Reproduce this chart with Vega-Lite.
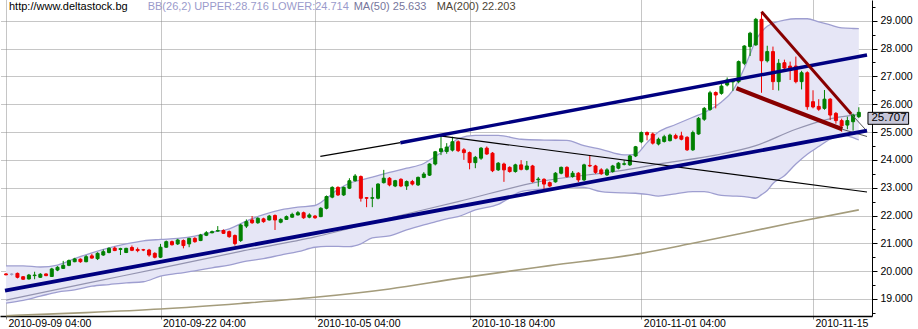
{
"$schema":"https://vega.github.io/schema/vega-lite/v6.json",
"width":872,"height":316,
"autosize":{"type":"none"},
"padding":{"left":0,"top":0,"right":46,"bottom":13},
"background":"white",
"config":{"view":{"stroke":null},"font":"Liberation Sans",
 "axisX":{"grid":true,"gridDash":[1,1],"gridColor":"#8c8c8c","domainColor":"#000000","domainWidth":1.5,
  "tickColor":"#8c8c8c","tickSize":3,"labelAlign":"left","labelBaseline":"alphabetic","labelPadding":7.5,
  "labelOffset":2,"labelFontSize":10.5,"labelFont":"Liberation Sans","labelColor":"#000000","title":null,
  "labelOverlap":false,"labelBound":false,"labelFlush":false},
 "axisY":{"grid":true,"gridDash":[1,1],"gridColor":"#8c8c8c","tickColor":"#000000","domainColor":"#000000",
  "labelPadding":3,"labelFontSize":10.5,"labelFont":"Liberation Sans","labelColor":"#000000","labelBaseline":"middle","title":null,
  "labelOverlap":false,"labelBound":false,"labelFlush":false}},
"datasets":{
"candles":[
{"i":0,"o":19.90,"h":19.93,"l":19.85,"c":19.87},
{"i":1,"o":19.89,"h":19.93,"l":19.84,"c":19.89},
{"i":2,"o":19.92,"h":19.95,"l":19.74,"c":19.78},
{"i":3,"o":19.80,"h":19.82,"l":19.69,"c":19.71},
{"i":4,"o":19.72,"h":19.90,"l":19.70,"c":19.86},
{"i":5,"o":19.84,"h":19.98,"l":19.71,"c":19.86},
{"i":6,"o":19.78,"h":19.93,"l":19.76,"c":19.89},
{"i":7,"o":19.90,"h":19.92,"l":19.82,"c":19.84},
{"i":8,"o":19.81,"h":20.12,"l":19.79,"c":20.08},
{"i":9,"o":20.04,"h":20.18,"l":20.00,"c":20.14},
{"i":10,"o":20.10,"h":20.37,"l":20.08,"c":20.21},
{"i":11,"o":20.21,"h":20.42,"l":20.18,"c":20.38},
{"i":12,"o":20.34,"h":20.48,"l":20.32,"c":20.44},
{"i":13,"o":20.43,"h":20.46,"l":20.30,"c":20.34},
{"i":14,"o":20.34,"h":20.58,"l":20.32,"c":20.52},
{"i":15,"o":20.55,"h":20.62,"l":20.45,"c":20.47},
{"i":16,"o":20.45,"h":20.68,"l":20.40,"c":20.64},
{"i":17,"o":20.58,"h":20.78,"l":20.55,"c":20.70},
{"i":18,"o":20.67,"h":20.86,"l":20.64,"c":20.82},
{"i":19,"o":20.83,"h":20.88,"l":20.72,"c":20.74},
{"i":20,"o":20.78,"h":20.84,"l":20.58,"c":20.81},
{"i":21,"o":20.67,"h":20.84,"l":20.65,"c":20.82},
{"i":22,"o":20.85,"h":20.92,"l":20.72,"c":20.75},
{"i":23,"o":20.78,"h":20.85,"l":20.68,"c":20.74},
{"i":24,"o":20.77,"h":20.80,"l":20.72,"c":20.76},
{"i":25,"o":20.76,"h":20.80,"l":20.52,"c":20.58},
{"i":26,"o":20.64,"h":20.68,"l":20.46,"c":20.50},
{"i":27,"o":20.50,"h":20.98,"l":20.47,"c":20.86},
{"i":28,"o":20.86,"h":21.10,"l":20.84,"c":21.06},
{"i":29,"o":21.06,"h":21.10,"l":20.92,"c":20.95},
{"i":30,"o":20.98,"h":21.16,"l":20.94,"c":21.12},
{"i":31,"o":21.10,"h":21.14,"l":20.82,"c":20.92},
{"i":32,"o":20.98,"h":21.20,"l":20.86,"c":21.18},
{"i":33,"o":21.18,"h":21.22,"l":21.02,"c":21.06},
{"i":34,"o":21.10,"h":21.34,"l":21.08,"c":21.30},
{"i":35,"o":21.29,"h":21.44,"l":21.26,"c":21.38},
{"i":36,"o":21.38,"h":21.46,"l":21.36,"c":21.42},
{"i":37,"o":21.44,"h":21.62,"l":21.42,"c":21.46},
{"i":38,"o":21.46,"h":21.50,"l":21.34,"c":21.36},
{"i":39,"o":21.42,"h":21.46,"l":21.20,"c":21.24},
{"i":40,"o":21.28,"h":21.32,"l":20.92,"c":20.99},
{"i":41,"o":21.10,"h":21.70,"l":21.05,"c":21.66},
{"i":42,"o":21.62,"h":21.86,"l":21.55,"c":21.78},
{"i":43,"o":21.84,"h":21.98,"l":21.70,"c":21.74},
{"i":44,"o":21.74,"h":21.94,"l":21.70,"c":21.90},
{"i":45,"o":21.88,"h":21.92,"l":21.74,"c":21.78},
{"i":46,"o":21.84,"h":22.02,"l":21.82,"c":21.98},
{"i":47,"o":22.00,"h":22.04,"l":21.48,"c":21.84},
{"i":48,"o":21.76,"h":21.90,"l":21.72,"c":21.86},
{"i":49,"o":21.86,"h":22.00,"l":21.84,"c":21.96},
{"i":50,"o":21.94,"h":22.10,"l":21.92,"c":22.04},
{"i":51,"o":22.02,"h":22.16,"l":22.00,"c":22.10},
{"i":52,"o":22.10,"h":22.14,"l":21.88,"c":21.92},
{"i":53,"o":21.94,"h":22.08,"l":21.90,"c":22.02},
{"i":54,"o":21.98,"h":22.02,"l":21.88,"c":21.92},
{"i":55,"o":21.96,"h":22.30,"l":21.94,"c":22.26},
{"i":56,"o":22.26,"h":22.72,"l":22.22,"c":22.68},
{"i":57,"o":22.66,"h":23.05,"l":22.62,"c":23.01},
{"i":58,"o":23.01,"h":23.05,"l":22.70,"c":22.74},
{"i":59,"o":22.74,"h":23.04,"l":22.70,"c":23.01},
{"i":60,"o":22.98,"h":23.34,"l":22.95,"c":23.25},
{"i":61,"o":23.25,"h":23.49,"l":23.22,"c":23.42},
{"i":62,"o":23.40,"h":23.44,"l":22.50,"c":22.62},
{"i":63,"o":22.64,"h":22.66,"l":22.30,"c":22.62},
{"i":64,"o":22.62,"h":23.00,"l":22.30,"c":22.64},
{"i":65,"o":22.62,"h":23.16,"l":22.58,"c":23.13},
{"i":66,"o":23.18,"h":23.64,"l":23.15,"c":23.34},
{"i":67,"o":23.34,"h":23.38,"l":23.05,"c":23.10},
{"i":68,"o":23.06,"h":23.28,"l":23.02,"c":23.25},
{"i":69,"o":23.30,"h":23.34,"l":23.02,"c":23.06},
{"i":70,"o":23.06,"h":23.26,"l":22.92,"c":23.22},
{"i":71,"o":23.22,"h":23.28,"l":23.08,"c":23.13},
{"i":72,"o":23.10,"h":23.40,"l":23.06,"c":23.37},
{"i":73,"o":23.37,"h":23.56,"l":23.34,"c":23.49},
{"i":74,"o":23.45,"h":23.88,"l":23.42,"c":23.85},
{"i":75,"o":23.85,"h":24.32,"l":23.80,"c":24.29},
{"i":76,"o":24.30,"h":24.89,"l":24.17,"c":24.40},
{"i":77,"o":24.30,"h":24.60,"l":24.22,"c":24.46},
{"i":78,"o":24.35,"h":24.83,"l":24.30,"c":24.65},
{"i":79,"o":24.65,"h":24.70,"l":24.28,"c":24.33},
{"i":80,"o":24.36,"h":24.42,"l":24.00,"c":24.26},
{"i":81,"o":24.26,"h":24.30,"l":23.66,"c":23.90},
{"i":82,"o":23.90,"h":24.14,"l":23.70,"c":24.09},
{"i":83,"o":24.06,"h":24.46,"l":24.00,"c":24.42},
{"i":84,"o":24.42,"h":24.48,"l":24.18,"c":24.21},
{"i":85,"o":24.24,"h":24.28,"l":23.56,"c":23.61},
{"i":86,"o":23.64,"h":23.92,"l":23.60,"c":23.88},
{"i":87,"o":23.85,"h":23.90,"l":23.21,"c":23.64},
{"i":88,"o":23.73,"h":23.77,"l":23.54,"c":23.58},
{"i":89,"o":23.58,"h":23.86,"l":23.54,"c":23.82},
{"i":90,"o":23.82,"h":23.99,"l":23.62,"c":23.66},
{"i":91,"o":23.66,"h":23.96,"l":23.62,"c":23.78},
{"i":92,"o":23.78,"h":23.82,"l":23.18,"c":23.22},
{"i":93,"o":23.28,"h":23.38,"l":23.04,"c":23.31},
{"i":94,"o":23.30,"h":23.34,"l":22.86,"c":23.13},
{"i":95,"o":23.18,"h":23.22,"l":23.02,"c":23.06},
{"i":96,"o":23.21,"h":23.56,"l":23.18,"c":23.52},
{"i":97,"o":23.52,"h":23.76,"l":23.48,"c":23.73},
{"i":98,"o":23.73,"h":23.77,"l":23.36,"c":23.40},
{"i":99,"o":23.40,"h":23.60,"l":23.36,"c":23.52},
{"i":100,"o":23.52,"h":23.56,"l":23.20,"c":23.28},
{"i":101,"o":23.28,"h":23.86,"l":23.24,"c":23.82},
{"i":102,"o":23.80,"h":24.17,"l":23.74,"c":23.78},
{"i":103,"o":23.78,"h":23.82,"l":23.50,"c":23.55},
{"i":104,"o":23.64,"h":23.70,"l":23.46,"c":23.50},
{"i":105,"o":23.46,"h":23.70,"l":23.42,"c":23.64},
{"i":106,"o":23.58,"h":23.82,"l":23.54,"c":23.78},
{"i":107,"o":23.70,"h":23.92,"l":23.66,"c":23.88},
{"i":108,"o":23.84,"h":23.99,"l":23.80,"c":23.86},
{"i":109,"o":23.82,"h":24.18,"l":23.78,"c":24.14},
{"i":110,"o":24.14,"h":24.50,"l":24.10,"c":24.47},
{"i":111,"o":24.65,"h":25.02,"l":24.60,"c":24.98},
{"i":112,"o":24.98,"h":25.02,"l":24.70,"c":24.90},
{"i":113,"o":24.93,"h":24.98,"l":24.55,"c":24.60},
{"i":114,"o":24.57,"h":24.80,"l":24.52,"c":24.74},
{"i":115,"o":24.66,"h":24.90,"l":24.62,"c":24.83},
{"i":116,"o":24.69,"h":24.94,"l":24.66,"c":24.89},
{"i":117,"o":24.87,"h":24.94,"l":24.74,"c":24.78},
{"i":118,"o":24.86,"h":25.01,"l":24.70,"c":24.74},
{"i":119,"o":24.81,"h":24.85,"l":24.32,"c":24.36},
{"i":120,"o":24.36,"h":25.05,"l":24.32,"c":24.98},
{"i":121,"o":24.93,"h":25.54,"l":24.90,"c":25.49},
{"i":122,"o":25.46,"h":25.90,"l":25.40,"c":25.85},
{"i":123,"o":25.81,"h":26.48,"l":25.76,"c":26.41},
{"i":124,"o":26.42,"h":26.46,"l":25.85,"c":26.33},
{"i":125,"o":26.39,"h":26.72,"l":26.34,"c":26.65},
{"i":126,"o":26.69,"h":26.96,"l":26.64,"c":26.87},
{"i":127,"o":26.80,"h":26.90,"l":26.48,"c":26.82},
{"i":128,"o":26.81,"h":27.57,"l":26.75,"c":27.53},
{"i":129,"o":27.47,"h":28.12,"l":27.40,"c":28.09},
{"i":130,"o":28.07,"h":28.60,"l":27.73,"c":28.55},
{"i":131,"o":28.13,"h":29.10,"l":28.10,"c":29.05},
{"i":132,"o":29.05,"h":29.32,"l":26.41,"c":27.56},
{"i":133,"o":27.56,"h":28.10,"l":27.50,"c":27.89},
{"i":134,"o":27.89,"h":28.07,"l":26.51,"c":26.81},
{"i":135,"o":26.81,"h":27.62,"l":26.49,"c":27.47},
{"i":136,"o":27.49,"h":27.60,"l":27.20,"c":27.30},
{"i":137,"o":27.37,"h":27.53,"l":26.87,"c":27.21},
{"i":138,"o":27.37,"h":27.71,"l":26.75,"c":26.81},
{"i":139,"o":26.81,"h":27.20,"l":26.53,"c":27.13},
{"i":140,"o":27.13,"h":27.18,"l":25.80,"c":25.91},
{"i":141,"o":26.09,"h":26.50,"l":25.85,"c":25.90},
{"i":142,"o":25.92,"h":26.18,"l":25.76,"c":25.82},
{"i":143,"o":25.85,"h":26.51,"l":25.80,"c":26.18},
{"i":144,"o":26.18,"h":26.22,"l":25.43,"c":25.61},
{"i":145,"o":25.67,"h":25.72,"l":25.30,"c":25.41},
{"i":146,"o":25.41,"h":25.48,"l":25.01,"c":25.22},
{"i":147,"o":25.25,"h":25.55,"l":25.10,"c":25.41},
{"i":148,"o":25.37,"h":25.66,"l":25.05,"c":25.61},
{"i":149,"o":25.55,"h":25.89,"l":25.50,"c":25.707}
],
"bands":[
{"i":0,"up":20.19,"lo":18.85},{"i":3,"up":20.19,"lo":18.95},{"i":6,"up":20.15,"lo":19.10},
{"i":9,"up":20.22,"lo":19.25},{"i":12,"up":20.45,"lo":19.33},{"i":15,"up":20.66,"lo":19.46},
{"i":18,"up":20.84,"lo":19.52},{"i":21,"up":20.98,"lo":19.58},{"i":24,"up":21.09,"lo":19.62},
{"i":27,"up":21.14,"lo":19.82},{"i":30,"up":21.18,"lo":19.92},{"i":33,"up":21.26,"lo":20.01},
{"i":36,"up":21.40,"lo":20.12},{"i":39,"up":21.52,"lo":20.22},{"i":42,"up":21.80,"lo":20.36},
{"i":45,"up":22.03,"lo":20.45},{"i":48,"up":22.20,"lo":20.58},{"i":51,"up":22.30,"lo":20.70},
{"i":54,"up":22.36,"lo":20.86},{"i":56,"up":22.62,"lo":20.89},{"i":58,"up":22.94,"lo":20.89},
{"i":60,"up":23.16,"lo":20.88},{"i":62,"up":23.28,"lo":20.98},{"i":64,"up":23.38,"lo":21.20},
{"i":67,"up":23.55,"lo":21.27},{"i":70,"up":23.70,"lo":21.48},{"i":73,"up":23.87,"lo":21.66},
{"i":75,"up":24.12,"lo":21.77},{"i":77,"up":24.40,"lo":21.88},{"i":79,"up":24.76,"lo":21.96},
{"i":82,"up":24.88,"lo":22.20},{"i":86,"up":24.88,"lo":22.40},{"i":90,"up":24.74,"lo":22.86},
{"i":94,"up":24.71,"lo":22.96},{"i":98,"up":24.70,"lo":23.03},{"i":101,"up":24.51,"lo":23.01},
{"i":104,"up":24.38,"lo":22.86},{"i":108,"up":24.18,"lo":22.81},{"i":110,"up":24.20,"lo":22.80},
{"i":112,"up":24.62,"lo":22.76},{"i":114,"up":25.00,"lo":22.70},{"i":117,"up":25.27,"lo":22.78},
{"i":120,"up":25.53,"lo":22.86},{"i":122,"up":25.70,"lo":22.86},{"i":125,"up":26.08,"lo":22.72},
{"i":127,"up":26.50,"lo":22.70},{"i":129,"up":27.30,"lo":22.68},{"i":130,"up":27.80,"lo":22.65},
{"i":131,"up":28.30,"lo":22.62},{"i":132,"up":28.60,"lo":22.75},{"i":133,"up":28.80,"lo":22.90},
{"i":134,"up":28.91,"lo":23.15},{"i":136,"up":29.02,"lo":23.43},{"i":138,"up":29.07,"lo":23.85},
{"i":140,"up":29.07,"lo":24.20},{"i":142,"up":28.96,"lo":24.48},{"i":144,"up":28.85,"lo":24.74},
{"i":146,"up":28.74,"lo":24.89},{"i":148,"up":28.72,"lo":24.80},{"i":149,"up":28.716,"lo":24.714}
],
"ma50":[
{"i":0,"v":18.96},{"i":14,"v":19.56},{"i":27,"v":20.11},{"i":41,"v":20.71},{"i":54,"v":21.23},
{"i":67,"v":21.91},{"i":79,"v":22.50},{"i":93,"v":23.21},{"i":108,"v":23.63},{"i":115,"v":23.88},
{"i":124,"v":24.17},{"i":131,"v":24.51},{"i":138,"v":25.10},{"i":143,"v":25.43},{"i":149,"v":25.633}
],
"ma200":[
{"i":0,"v":18.40},{"i":14,"v":18.51},{"i":27,"v":18.64},{"i":41,"v":18.84},{"i":54,"v":19.06},
{"i":67,"v":19.36},{"i":79,"v":19.74},{"i":95,"v":20.20},{"i":111,"v":20.64},{"i":120,"v":21.00},
{"i":137,"v":21.72},{"i":149,"v":22.203}
],
"lines":[
{"id":"lowerCh","i":-0.173,"p":19.298},{"id":"lowerCh","i":150.43,"p":25.047},
{"id":"upperCh","i":68.91,"p":24.616},{"id":"upperCh","i":150.43,"p":27.768},
{"id":"blackUp","i":54.92,"p":24.128},{"id":"blackUp","i":68.91,"p":24.616},
{"id":"blackDown","i":75.82,"p":24.864},{"id":"blackDown","i":150.43,"p":22.845},
{"id":"maroonUp","i":132.0,"p":29.323},{"id":"maroonUp","i":147.67,"p":25.648},
{"id":"maroonLo","i":127.63,"p":26.571},{"id":"maroonLo","i":146.11,"p":25.098},
{"id":"gray1","i":147.67,"p":25.648},{"id":"gray1","i":150.43,"p":25.03},
{"id":"gray2","i":146.11,"p":25.098},{"id":"gray2","i":150.43,"p":24.84}
],
"header":[
{"k":"url","t":"http://www.deltastock.bg"},
{"k":"bb","t":"BB(26,2) UPPER:28.716 LOWER:24.714"},
{"k":"ma50","t":"MA(50) 25.633"},
{"k":"ma200","t":"MA(200) 22.203"}
],
"lastp":[{"last":25.707}]
},
"layer":[
{"encoding":{
 "x":{"field":"i","type":"quantitative",
  "scale":{"domain":[-0.173,150.43],"nice":false,"zero":false},
  "axis":{"values":[0,27,54,81,111,141],
   "labelExpr":"datum.value == 0 ? '2010-09-09 04:00' : datum.value == 27 ? '2010-09-22 04:00' : datum.value == 54 ? '2010-10-05 04:00' : datum.value == 81 ? '2010-10-18 04:00' : datum.value == 111 ? '2010-11-01 04:00' : '2010-11-15'"}}},
 "layer":[
 {"data":{"name":"bands"},"mark":{"type":"area","color":"#e6e6f6","interpolate":"monotone"},
  "encoding":{"y":{"field":"up","type":"quantitative","title":null,
   "scale":{"domain":[18.389,29.744],"nice":false,"zero":false},
   "axis":{"orient":"right","values":[18.5,19,19.5,20,20.5,21,21.5,22,22.5,23,23.5,24,24.5,25,25.5,26,26.5,27,27.5,28,28.5,29,29.5],"labelExpr":"datum.value % 1 == 0 ? format(datum.value, '.3f') : ''","gridOpacity":{"condition":{"test":"datum.value % 1 != 0","value":0},"value":1},"tickSize":{"condition":{"test":"datum.value % 1 != 0","value":3},"value":5}}},
   "y2":{"field":"lo"}}},
 {"data":{"name":"bands"},"mark":{"type":"line","color":"#9e9ed0","strokeWidth":1.3,"interpolate":"monotone"},
  "encoding":{"y":{"field":"up","type":"quantitative","title":null,"scale":{"domain":[18.389,29.744],"nice":false,"zero":false},"axis":{"orient":"right","values":[18.5,19,19.5,20,20.5,21,21.5,22,22.5,23,23.5,24,24.5,25,25.5,26,26.5,27,27.5,28,28.5,29,29.5],"labelExpr":"datum.value % 1 == 0 ? format(datum.value, '.3f') : ''","gridOpacity":{"condition":{"test":"datum.value % 1 != 0","value":0},"value":1},"tickSize":{"condition":{"test":"datum.value % 1 != 0","value":3},"value":5}}}}},
 {"data":{"name":"bands"},"mark":{"type":"line","color":"#9e9ed0","strokeWidth":1.3,"interpolate":"monotone"},
  "encoding":{"y":{"field":"lo","type":"quantitative","title":null,"scale":{"domain":[18.389,29.744],"nice":false,"zero":false},"axis":{"orient":"right","values":[18.5,19,19.5,20,20.5,21,21.5,22,22.5,23,23.5,24,24.5,25,25.5,26,26.5,27,27.5,28,28.5,29,29.5],"labelExpr":"datum.value % 1 == 0 ? format(datum.value, '.3f') : ''","gridOpacity":{"condition":{"test":"datum.value % 1 != 0","value":0},"value":1},"tickSize":{"condition":{"test":"datum.value % 1 != 0","value":3},"value":5}}}}},
 {"data":{"name":"ma200"},"mark":{"type":"line","color":"#a49c7c","strokeWidth":1.6,"interpolate":"monotone"},
  "encoding":{"y":{"field":"v","type":"quantitative","title":null,"scale":{"domain":[18.389,29.744],"nice":false,"zero":false},"axis":{"orient":"right","values":[18.5,19,19.5,20,20.5,21,21.5,22,22.5,23,23.5,24,24.5,25,25.5,26,26.5,27,27.5,28,28.5,29,29.5],"labelExpr":"datum.value % 1 == 0 ? format(datum.value, '.3f') : ''","gridOpacity":{"condition":{"test":"datum.value % 1 != 0","value":0},"value":1},"tickSize":{"condition":{"test":"datum.value % 1 != 0","value":3},"value":5}}}}},
 {"data":{"name":"ma50"},"mark":{"type":"line","color":"#9494b0","strokeWidth":1.2,"interpolate":"monotone"},
  "encoding":{"y":{"field":"v","type":"quantitative","title":null,"scale":{"domain":[18.389,29.744],"nice":false,"zero":false},"axis":{"orient":"right","values":[18.5,19,19.5,20,20.5,21,21.5,22,22.5,23,23.5,24,24.5,25,25.5,26,26.5,27,27.5,28,28.5,29,29.5],"labelExpr":"datum.value % 1 == 0 ? format(datum.value, '.3f') : ''","gridOpacity":{"condition":{"test":"datum.value % 1 != 0","value":0},"value":1},"tickSize":{"condition":{"test":"datum.value % 1 != 0","value":3},"value":5}}}}},
 {"data":{"name":"candles"},"mark":{"type":"rule","strokeWidth":1},
  "encoding":{"y":{"field":"l","type":"quantitative","title":null,"scale":{"domain":[18.389,29.744],"nice":false,"zero":false},"axis":{"orient":"right","values":[18.5,19,19.5,20,20.5,21,21.5,22,22.5,23,23.5,24,24.5,25,25.5,26,26.5,27,27.5,28,28.5,29,29.5],"labelExpr":"datum.value % 1 == 0 ? format(datum.value, '.3f') : ''","gridOpacity":{"condition":{"test":"datum.value % 1 != 0","value":0},"value":1},"tickSize":{"condition":{"test":"datum.value % 1 != 0","value":3},"value":5}}},"y2":{"field":"h"},
   "color":{"condition":[{"test":"datum.c > datum.o","value":"#008000"},{"test":"datum.c < datum.o","value":"#ee0000"}],"value":"#a0a0c0"}}},
 {"data":{"name":"candles"},"mark":{"type":"bar","width":3,"strokeWidth":1},
  "encoding":{"y":{"field":"o","type":"quantitative","title":null,"scale":{"domain":[18.389,29.744],"nice":false,"zero":false},"axis":{"orient":"right","values":[18.5,19,19.5,20,20.5,21,21.5,22,22.5,23,23.5,24,24.5,25,25.5,26,26.5,27,27.5,28,28.5,29,29.5],"labelExpr":"datum.value % 1 == 0 ? format(datum.value, '.3f') : ''","gridOpacity":{"condition":{"test":"datum.value % 1 != 0","value":0},"value":1},"tickSize":{"condition":{"test":"datum.value % 1 != 0","value":3},"value":5}}},"y2":{"field":"c"},
   "fill":{"condition":[{"test":"datum.c > datum.o","value":"#008000"},{"test":"datum.c < datum.o","value":"#ee0000"}],"value":"#a0a0c0"},
   "stroke":{"condition":[{"test":"datum.c > datum.o","value":"#008000"},{"test":"datum.c < datum.o","value":"#ee0000"}],"value":"#a0a0c0"}}},
 {"data":{"name":"lines"},"transform":[{"filter":"datum.id == 'blackUp' || datum.id == 'blackDown'"}],
  "mark":{"type":"line","color":"#000000","strokeWidth":1.2},
  "encoding":{"y":{"field":"p","type":"quantitative","title":null,"scale":{"domain":[18.389,29.744],"nice":false,"zero":false},"axis":{"orient":"right","values":[18.5,19,19.5,20,20.5,21,21.5,22,22.5,23,23.5,24,24.5,25,25.5,26,26.5,27,27.5,28,28.5,29,29.5],"labelExpr":"datum.value % 1 == 0 ? format(datum.value, '.3f') : ''","gridOpacity":{"condition":{"test":"datum.value % 1 != 0","value":0},"value":1},"tickSize":{"condition":{"test":"datum.value % 1 != 0","value":3},"value":5}}},"detail":{"field":"id"}}},
 {"data":{"name":"lines"},"transform":[{"filter":"datum.id == 'gray1' || datum.id == 'gray2'"}],
  "mark":{"type":"line","color":"#555555","strokeWidth":1},
  "encoding":{"y":{"field":"p","type":"quantitative","title":null,"scale":{"domain":[18.389,29.744],"nice":false,"zero":false},"axis":{"orient":"right","values":[18.5,19,19.5,20,20.5,21,21.5,22,22.5,23,23.5,24,24.5,25,25.5,26,26.5,27,27.5,28,28.5,29,29.5],"labelExpr":"datum.value % 1 == 0 ? format(datum.value, '.3f') : ''","gridOpacity":{"condition":{"test":"datum.value % 1 != 0","value":0},"value":1},"tickSize":{"condition":{"test":"datum.value % 1 != 0","value":3},"value":5}}},"detail":{"field":"id"}}},
 {"data":{"name":"lines"},"transform":[{"filter":"datum.id == 'lowerCh'"}],
  "mark":{"type":"line","color":"#000080","strokeWidth":3.8},
  "encoding":{"y":{"field":"p","type":"quantitative","title":null,"scale":{"domain":[18.389,29.744],"nice":false,"zero":false},"axis":{"orient":"right","values":[18.5,19,19.5,20,20.5,21,21.5,22,22.5,23,23.5,24,24.5,25,25.5,26,26.5,27,27.5,28,28.5,29,29.5],"labelExpr":"datum.value % 1 == 0 ? format(datum.value, '.3f') : ''","gridOpacity":{"condition":{"test":"datum.value % 1 != 0","value":0},"value":1},"tickSize":{"condition":{"test":"datum.value % 1 != 0","value":3},"value":5}}}}},
 {"data":{"name":"lines"},"transform":[{"filter":"datum.id == 'upperCh'"}],
  "mark":{"type":"line","color":"#000080","strokeWidth":3.4},
  "encoding":{"y":{"field":"p","type":"quantitative","title":null,"scale":{"domain":[18.389,29.744],"nice":false,"zero":false},"axis":{"orient":"right","values":[18.5,19,19.5,20,20.5,21,21.5,22,22.5,23,23.5,24,24.5,25,25.5,26,26.5,27,27.5,28,28.5,29,29.5],"labelExpr":"datum.value % 1 == 0 ? format(datum.value, '.3f') : ''","gridOpacity":{"condition":{"test":"datum.value % 1 != 0","value":0},"value":1},"tickSize":{"condition":{"test":"datum.value % 1 != 0","value":3},"value":5}}}}},
 {"data":{"name":"lines"},"transform":[{"filter":"datum.id == 'maroonUp'"}],
  "mark":{"type":"line","color":"#880000","strokeWidth":3},
  "encoding":{"y":{"field":"p","type":"quantitative","title":null,"scale":{"domain":[18.389,29.744],"nice":false,"zero":false},"axis":{"orient":"right","values":[18.5,19,19.5,20,20.5,21,21.5,22,22.5,23,23.5,24,24.5,25,25.5,26,26.5,27,27.5,28,28.5,29,29.5],"labelExpr":"datum.value % 1 == 0 ? format(datum.value, '.3f') : ''","gridOpacity":{"condition":{"test":"datum.value % 1 != 0","value":0},"value":1},"tickSize":{"condition":{"test":"datum.value % 1 != 0","value":3},"value":5}}}}},
 {"data":{"name":"lines"},"transform":[{"filter":"datum.id == 'maroonLo'"}],
  "mark":{"type":"line","color":"#880000","strokeWidth":4.2},
  "encoding":{"y":{"field":"p","type":"quantitative","title":null,"scale":{"domain":[18.389,29.744],"nice":false,"zero":false},"axis":{"orient":"right","values":[18.5,19,19.5,20,20.5,21,21.5,22,22.5,23,23.5,24,24.5,25,25.5,26,26.5,27,27.5,28,28.5,29,29.5],"labelExpr":"datum.value % 1 == 0 ? format(datum.value, '.3f') : ''","gridOpacity":{"condition":{"test":"datum.value % 1 != 0","value":0},"value":1},"tickSize":{"condition":{"test":"datum.value % 1 != 0","value":3},"value":5}}}}}
 ]},
{"data":{"name":"header"},"transform":[{"filter":"datum.k == 'url'"}],
 "mark":{"type":"text","align":"left","baseline":"alphabetic","dx":4,"dy":9.5,"fontSize":11,"font":"Liberation Sans","fill":"#000000"},
 "encoding":{"x":{"datum":-0.173,"type":"quantitative","scale":{"domain":[-0.173,150.43],"nice":false,"zero":false},"axis":{"values":[0,27,54,81,111,141],"labelExpr":"datum.value == 0 ? '2010-09-09 04:00' : datum.value == 27 ? '2010-09-22 04:00' : datum.value == 54 ? '2010-10-05 04:00' : datum.value == 81 ? '2010-10-18 04:00' : datum.value == 111 ? '2010-11-01 04:00' : '2010-11-15'"}},
  "y":{"datum":29.744,"type":"quantitative","title":null,"scale":{"domain":[18.389,29.744],"nice":false,"zero":false},"axis":{"orient":"right","values":[18.5,19,19.5,20,20.5,21,21.5,22,22.5,23,23.5,24,24.5,25,25.5,26,26.5,27,27.5,28,28.5,29,29.5],"labelExpr":"datum.value % 1 == 0 ? format(datum.value, '.3f') : ''","gridOpacity":{"condition":{"test":"datum.value % 1 != 0","value":0},"value":1},"tickSize":{"condition":{"test":"datum.value % 1 != 0","value":3},"value":5}}},"text":{"field":"t","type":"nominal"}}},
{"data":{"name":"header"},"transform":[{"filter":"datum.k == 'bb'"}],
 "mark":{"type":"text","align":"left","baseline":"alphabetic","dx":142.7,"dy":9.5,"fontSize":11,"font":"Liberation Sans","fill":"#9a9acb"},
 "encoding":{"x":{"datum":-0.173,"type":"quantitative","scale":{"domain":[-0.173,150.43],"nice":false,"zero":false},"axis":{"values":[0,27,54,81,111,141],"labelExpr":"datum.value == 0 ? '2010-09-09 04:00' : datum.value == 27 ? '2010-09-22 04:00' : datum.value == 54 ? '2010-10-05 04:00' : datum.value == 81 ? '2010-10-18 04:00' : datum.value == 111 ? '2010-11-01 04:00' : '2010-11-15'"}},
  "y":{"datum":29.744,"type":"quantitative","title":null,"scale":{"domain":[18.389,29.744],"nice":false,"zero":false},"axis":{"orient":"right","values":[18.5,19,19.5,20,20.5,21,21.5,22,22.5,23,23.5,24,24.5,25,25.5,26,26.5,27,27.5,28,28.5,29,29.5],"labelExpr":"datum.value % 1 == 0 ? format(datum.value, '.3f') : ''","gridOpacity":{"condition":{"test":"datum.value % 1 != 0","value":0},"value":1},"tickSize":{"condition":{"test":"datum.value % 1 != 0","value":3},"value":5}}},"text":{"field":"t","type":"nominal"}}},
{"data":{"name":"header"},"transform":[{"filter":"datum.k == 'ma50'"}],
 "mark":{"type":"text","align":"left","baseline":"alphabetic","dx":348.7,"dy":9.5,"fontSize":11,"font":"Liberation Sans","fill":"#76769c"},
 "encoding":{"x":{"datum":-0.173,"type":"quantitative","scale":{"domain":[-0.173,150.43],"nice":false,"zero":false},"axis":{"values":[0,27,54,81,111,141],"labelExpr":"datum.value == 0 ? '2010-09-09 04:00' : datum.value == 27 ? '2010-09-22 04:00' : datum.value == 54 ? '2010-10-05 04:00' : datum.value == 81 ? '2010-10-18 04:00' : datum.value == 111 ? '2010-11-01 04:00' : '2010-11-15'"}},
  "y":{"datum":29.744,"type":"quantitative","title":null,"scale":{"domain":[18.389,29.744],"nice":false,"zero":false},"axis":{"orient":"right","values":[18.5,19,19.5,20,20.5,21,21.5,22,22.5,23,23.5,24,24.5,25,25.5,26,26.5,27,27.5,28,28.5,29,29.5],"labelExpr":"datum.value % 1 == 0 ? format(datum.value, '.3f') : ''","gridOpacity":{"condition":{"test":"datum.value % 1 != 0","value":0},"value":1},"tickSize":{"condition":{"test":"datum.value % 1 != 0","value":3},"value":5}}},"text":{"field":"t","type":"nominal"}}},
{"data":{"name":"header"},"transform":[{"filter":"datum.k == 'ma200'"}],
 "mark":{"type":"text","align":"left","baseline":"alphabetic","dx":431.7,"dy":9.5,"fontSize":11,"font":"Liberation Sans","fill":"#4d4536"},
 "encoding":{"x":{"datum":-0.173,"type":"quantitative","scale":{"domain":[-0.173,150.43],"nice":false,"zero":false},"axis":{"values":[0,27,54,81,111,141],"labelExpr":"datum.value == 0 ? '2010-09-09 04:00' : datum.value == 27 ? '2010-09-22 04:00' : datum.value == 54 ? '2010-10-05 04:00' : datum.value == 81 ? '2010-10-18 04:00' : datum.value == 111 ? '2010-11-01 04:00' : '2010-11-15'"}},
  "y":{"datum":29.744,"type":"quantitative","title":null,"scale":{"domain":[18.389,29.744],"nice":false,"zero":false},"axis":{"orient":"right","values":[18.5,19,19.5,20,20.5,21,21.5,22,22.5,23,23.5,24,24.5,25,25.5,26,26.5,27,27.5,28,28.5,29,29.5],"labelExpr":"datum.value % 1 == 0 ? format(datum.value, '.3f') : ''","gridOpacity":{"condition":{"test":"datum.value % 1 != 0","value":0},"value":1},"tickSize":{"condition":{"test":"datum.value % 1 != 0","value":3},"value":5}}},"text":{"field":"t","type":"nominal"}}},
{"data":{"name":"lastp"},"mark":{"type":"rect","fill":"#c6c6d8","stroke":"#000000","strokeWidth":1},
 "encoding":{"x":{"datum":150.6,"type":"quantitative","scale":{"domain":[-0.173,150.43],"nice":false,"zero":false},"axis":{"values":[0,27,54,81,111,141],"labelExpr":"datum.value == 0 ? '2010-09-09 04:00' : datum.value == 27 ? '2010-09-22 04:00' : datum.value == 54 ? '2010-10-05 04:00' : datum.value == 81 ? '2010-10-18 04:00' : datum.value == 111 ? '2010-11-01 04:00' : '2010-11-15'"}},
  "x2":{"datum":157.7},
  "y":{"field":"last","type":"quantitative","title":null,"scale":{"domain":[18.389,29.744],"nice":false,"zero":false},"axis":{"orient":"right","values":[18.5,19,19.5,20,20.5,21,21.5,22,22.5,23,23.5,24,24.5,25,25.5,26,26.5,27,27.5,28,28.5,29,29.5],"labelExpr":"datum.value % 1 == 0 ? format(datum.value, '.3f') : ''","gridOpacity":{"condition":{"test":"datum.value % 1 != 0","value":0},"value":1},"tickSize":{"condition":{"test":"datum.value % 1 != 0","value":3},"value":5}}},"y2":{"datum":25.277}}},
{"data":{"name":"lastp"},"mark":{"type":"text","align":"left","baseline":"middle","dx":3.5,"dy":6,"fontSize":11.5,"font":"Liberation Sans","fill":"#000000"},
 "encoding":{"x":{"datum":150.6,"type":"quantitative","scale":{"domain":[-0.173,150.43],"nice":false,"zero":false},"axis":{"values":[0,27,54,81,111,141],"labelExpr":"datum.value == 0 ? '2010-09-09 04:00' : datum.value == 27 ? '2010-09-22 04:00' : datum.value == 54 ? '2010-10-05 04:00' : datum.value == 81 ? '2010-10-18 04:00' : datum.value == 111 ? '2010-11-01 04:00' : '2010-11-15'"}},
  "y":{"field":"last","type":"quantitative","title":null,"scale":{"domain":[18.389,29.744],"nice":false,"zero":false},"axis":{"orient":"right","values":[18.5,19,19.5,20,20.5,21,21.5,22,22.5,23,23.5,24,24.5,25,25.5,26,26.5,27,27.5,28,28.5,29,29.5],"labelExpr":"datum.value % 1 == 0 ? format(datum.value, '.3f') : ''","gridOpacity":{"condition":{"test":"datum.value % 1 != 0","value":0},"value":1},"tickSize":{"condition":{"test":"datum.value % 1 != 0","value":3},"value":5}}},"text":{"field":"last","type":"quantitative","format":".3f"}}}
]
}
